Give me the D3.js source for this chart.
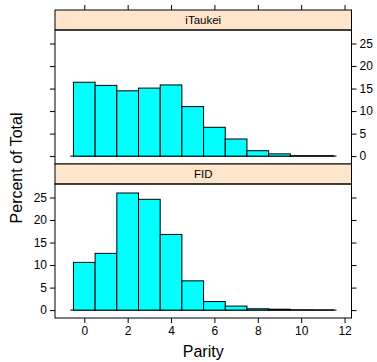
<!DOCTYPE html>
<html>
<head>
<meta charset="utf-8">
<script src="https://cdn.jsdelivr.net/npm/d3@7"></script>
<style>
  body { margin: 0; background: #fff; }
  text { font-family: "Liberation Sans", Arial, sans-serif; fill: #000; }
</style>
</head>
<body>
<svg id="chart" width="377" height="362"></svg>
<script>
// parity bins (centres), bin width 1
var parity = [0, 1, 2, 3, 4, 5, 6, 7, 8, 9, 10, 11];
var groups = ['iTaukei', 'FID'];
var iTaukeiPct = [16.4, 15.7, 14.5, 15.1, 15.8, 11.0, 6.4, 3.8, 1.2, 0.5, 0.1, 0.1];
var fidPct = [10.6, 12.6, 26.0, 24.6, 16.8, 6.5, 1.9, 0.9, 0.3, 0.2, 0.07, 0.05];
var xTicks = [0, 2, 4, 6, 8, 10, 12];
var yTicks = [0, 5, 10, 15, 20, 25];
var baseExtent = [-0.65, 11.63];

var values = { 'iTaukei': iTaukeiPct, 'FID': fidPct };

var svg = d3.select('#chart');

var left = 55, right = 351.5;
var stripH = 20, panelH = 134;
var top0 = 10;

var x = d3.scaleLinear().domain([-1.35, 12.32]).range([left, right]);
var y = d3.scaleLinear().domain([-1.75, 28.0]).range([panelH, 0]);

groups.forEach(function(g, i) {
  var gy = top0 + i * (stripH + panelH);
  var panel = svg.append('g').attr('transform', 'translate(0,' + gy + ')');

  // strip
  panel.append('rect')
    .attr('x', left).attr('y', 0)
    .attr('width', right - left).attr('height', stripH)
    .attr('fill', '#ffe5cc').attr('stroke', '#000');
  panel.append('text')
    .attr('x', (left + right) / 2).attr('y', stripH / 2 + 4)
    .attr('text-anchor', 'middle').attr('font-size', 11.5)
    .text(g);

  var body = panel.append('g').attr('transform', 'translate(0,' + stripH + ')');

  // baseline
  body.append('line')
    .attr('x1', x(baseExtent[0])).attr('x2', x(baseExtent[1]))
    .attr('y1', y(0)).attr('y2', y(0))
    .attr('stroke', '#000');

  body.selectAll('rect.bar')
    .data(parity.map(function(p, k) { return { p: p, v: values[g][k] }; }))
    .enter().append('rect')
    .attr('class', 'bar')
    .attr('x', function(d) { return x(d.p - 0.5); })
    .attr('width', function(d) { return x(d.p + 0.5) - x(d.p - 0.5); })
    .attr('y', function(d) { return y(d.v); })
    .attr('height', function(d) { return y(0) - y(d.v); })
    .attr('fill', '#00ffff').attr('stroke', '#000');

  body.append('rect')
    .attr('x', left).attr('y', 0)
    .attr('width', right - left).attr('height', panelH)
    .attr('fill', 'none').attr('stroke', '#000');

  // y axes: labels alternate sides
  var leftAxis = d3.axisLeft(y).tickValues(yTicks).tickSize(5).tickPadding(3);
  var rightAxis = d3.axisRight(y).tickValues(yTicks).tickSize(5).tickPadding(3);
  if (i === 0) leftAxis.tickFormat('');
  else rightAxis.tickFormat('');

  var la = body.append('g').attr('transform', 'translate(' + left + ',0)').call(leftAxis);
  var ra = body.append('g').attr('transform', 'translate(' + right + ',0)').call(rightAxis);
  [la, ra].forEach(function(a) {
    a.select('.domain').remove();
    a.selectAll('text').attr('font-size', 12).attr('font-family', '"Liberation Sans", Arial, sans-serif');
  });
});

// x axes: ticks on top, labels at bottom
var bottomY = top0 + 2 * (stripH + panelH);
var topAx = svg.append('g').attr('transform', 'translate(0,' + top0 + ')')
  .call(d3.axisTop(x).tickValues(xTicks).tickSize(5).tickFormat(''));
var botAx = svg.append('g').attr('transform', 'translate(0,' + bottomY + ')')
  .call(d3.axisBottom(x).tickValues(xTicks).tickSize(5).tickPadding(3));
[topAx, botAx].forEach(function(a) {
  a.select('.domain').remove();
  a.selectAll('text').attr('font-size', 12).attr('font-family', '"Liberation Sans", Arial, sans-serif');
});

svg.append('text')
  .attr('x', (left + right) / 2).attr('y', 357)
  .attr('text-anchor', 'middle').attr('font-size', 16)
  .text('Parity');

svg.append('text')
  .attr('transform', 'translate(22,' + (top0 + stripH + panelH + 4) + ') rotate(-90)')
  .attr('text-anchor', 'middle').attr('font-size', 16)
  .text('Percent of Total');
</script>
</body>
</html>
